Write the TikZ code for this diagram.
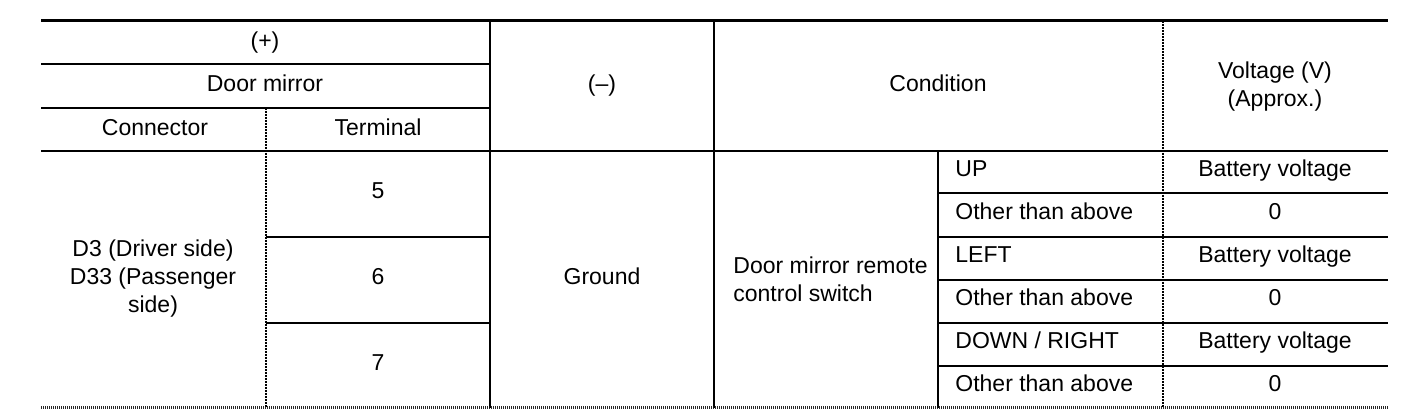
\documentclass[tikz,border=0pt]{standalone}
\usepackage{fontspec}
\setmainfont{Liberation Sans}
\begin{document}
\begin{tikzpicture}[x=0.5pt,y=-0.5pt,
  toprule/.style={line width=1.5pt},
  hrule/.style={line width=1pt},
  vrule/.style={line width=0.55pt},
  vdot/.style={line width=0.55pt, dash pattern=on 1pt off 0.5pt},
  botrule/.style={line width=1.5pt, black!85, dash pattern=on 0.5pt off 0.5pt},
  txt/.style={inner sep=0pt, font=\fontsize{11.5}{14}\selectfont, align=center},
  btxt/.style={inner sep=0pt, font=\fontsize{11.5}{14}\selectfont, anchor=base},
  ltxt/.style={inner sep=0pt, font=\fontsize{11.5}{14}\selectfont, anchor=base west}]
\useasboundingbox (0,0) rectangle (1408,416);
% rules
\draw[toprule] (41,21) -- (1388,21);
\draw[hrule] (41,64) -- (490,64);
\draw[hrule] (41,108) -- (490,108);
\draw[hrule] (41,151) -- (1388,151);
\draw[hrule] (266,237) -- (490,237);
\draw[hrule] (266,323) -- (490,323);
\foreach \y in {193,237,280,323,366} \draw[hrule] (938,\y) -- (1388,\y);
\draw[botrule] (41,408) -- (1388,408);
% verticals
\draw[vdot] (266,108) -- (266,408);
\draw[vrule] (490,21) -- (490,408);
\draw[vrule] (714,21) -- (714,408);
\draw[vrule] (938,151) -- (938,408);
\draw[vdot] (1163,21) -- (1163,408);
% header text
\node[btxt] (plus) at (265,49) {(+)};
\node[btxt] (dm) at (265,92) {Door mirror};
\node[btxt] (con) at (155,136) {Connector};
\node[btxt] (ter) at (378,136) {Terminal};
\node[btxt] (minus) at (602,92) {(–)};
\node[btxt] (cond) at (938,92) {Condition};
\node[txt] (volt) at (1275,87) {Voltage (V)\\(Approx.)};
% body
\node[txt] (d3) at (153,279) {D3 (Driver side)\\D33 (Passenger\\side)};
\node[btxt] (t5) at (378,199) {5};
\node[btxt] (t6) at (378,285) {6};
\node[btxt] (t7) at (378,371) {7};
\node[btxt] (gnd) at (602,285) {Ground};
\node[txt, align=left, anchor=west] (sw) at (733,279) {Door mirror remote\\control switch};
\node[ltxt] (c1) at (955,177) {UP};
\node[ltxt] (c2) at (955,220) {Other than above};
\node[ltxt] (c3) at (955,263) {LEFT};
\node[ltxt] (c4) at (955,306) {Other than above};
\node[ltxt] (c5) at (955,349) {DOWN / RIGHT};
\node[ltxt] (c6) at (955,392) {Other than above};
\node[btxt] (v1) at (1275,177) {Battery voltage};
\node[btxt] (v2) at (1275,220) {0};
\node[btxt] (v3) at (1275,263) {Battery voltage};
\node[btxt] (v4) at (1275,306) {0};
\node[btxt] (v5) at (1275,349) {Battery voltage};
\node[btxt] (v6) at (1275,392) {0};
\end{tikzpicture}
\end{document}
